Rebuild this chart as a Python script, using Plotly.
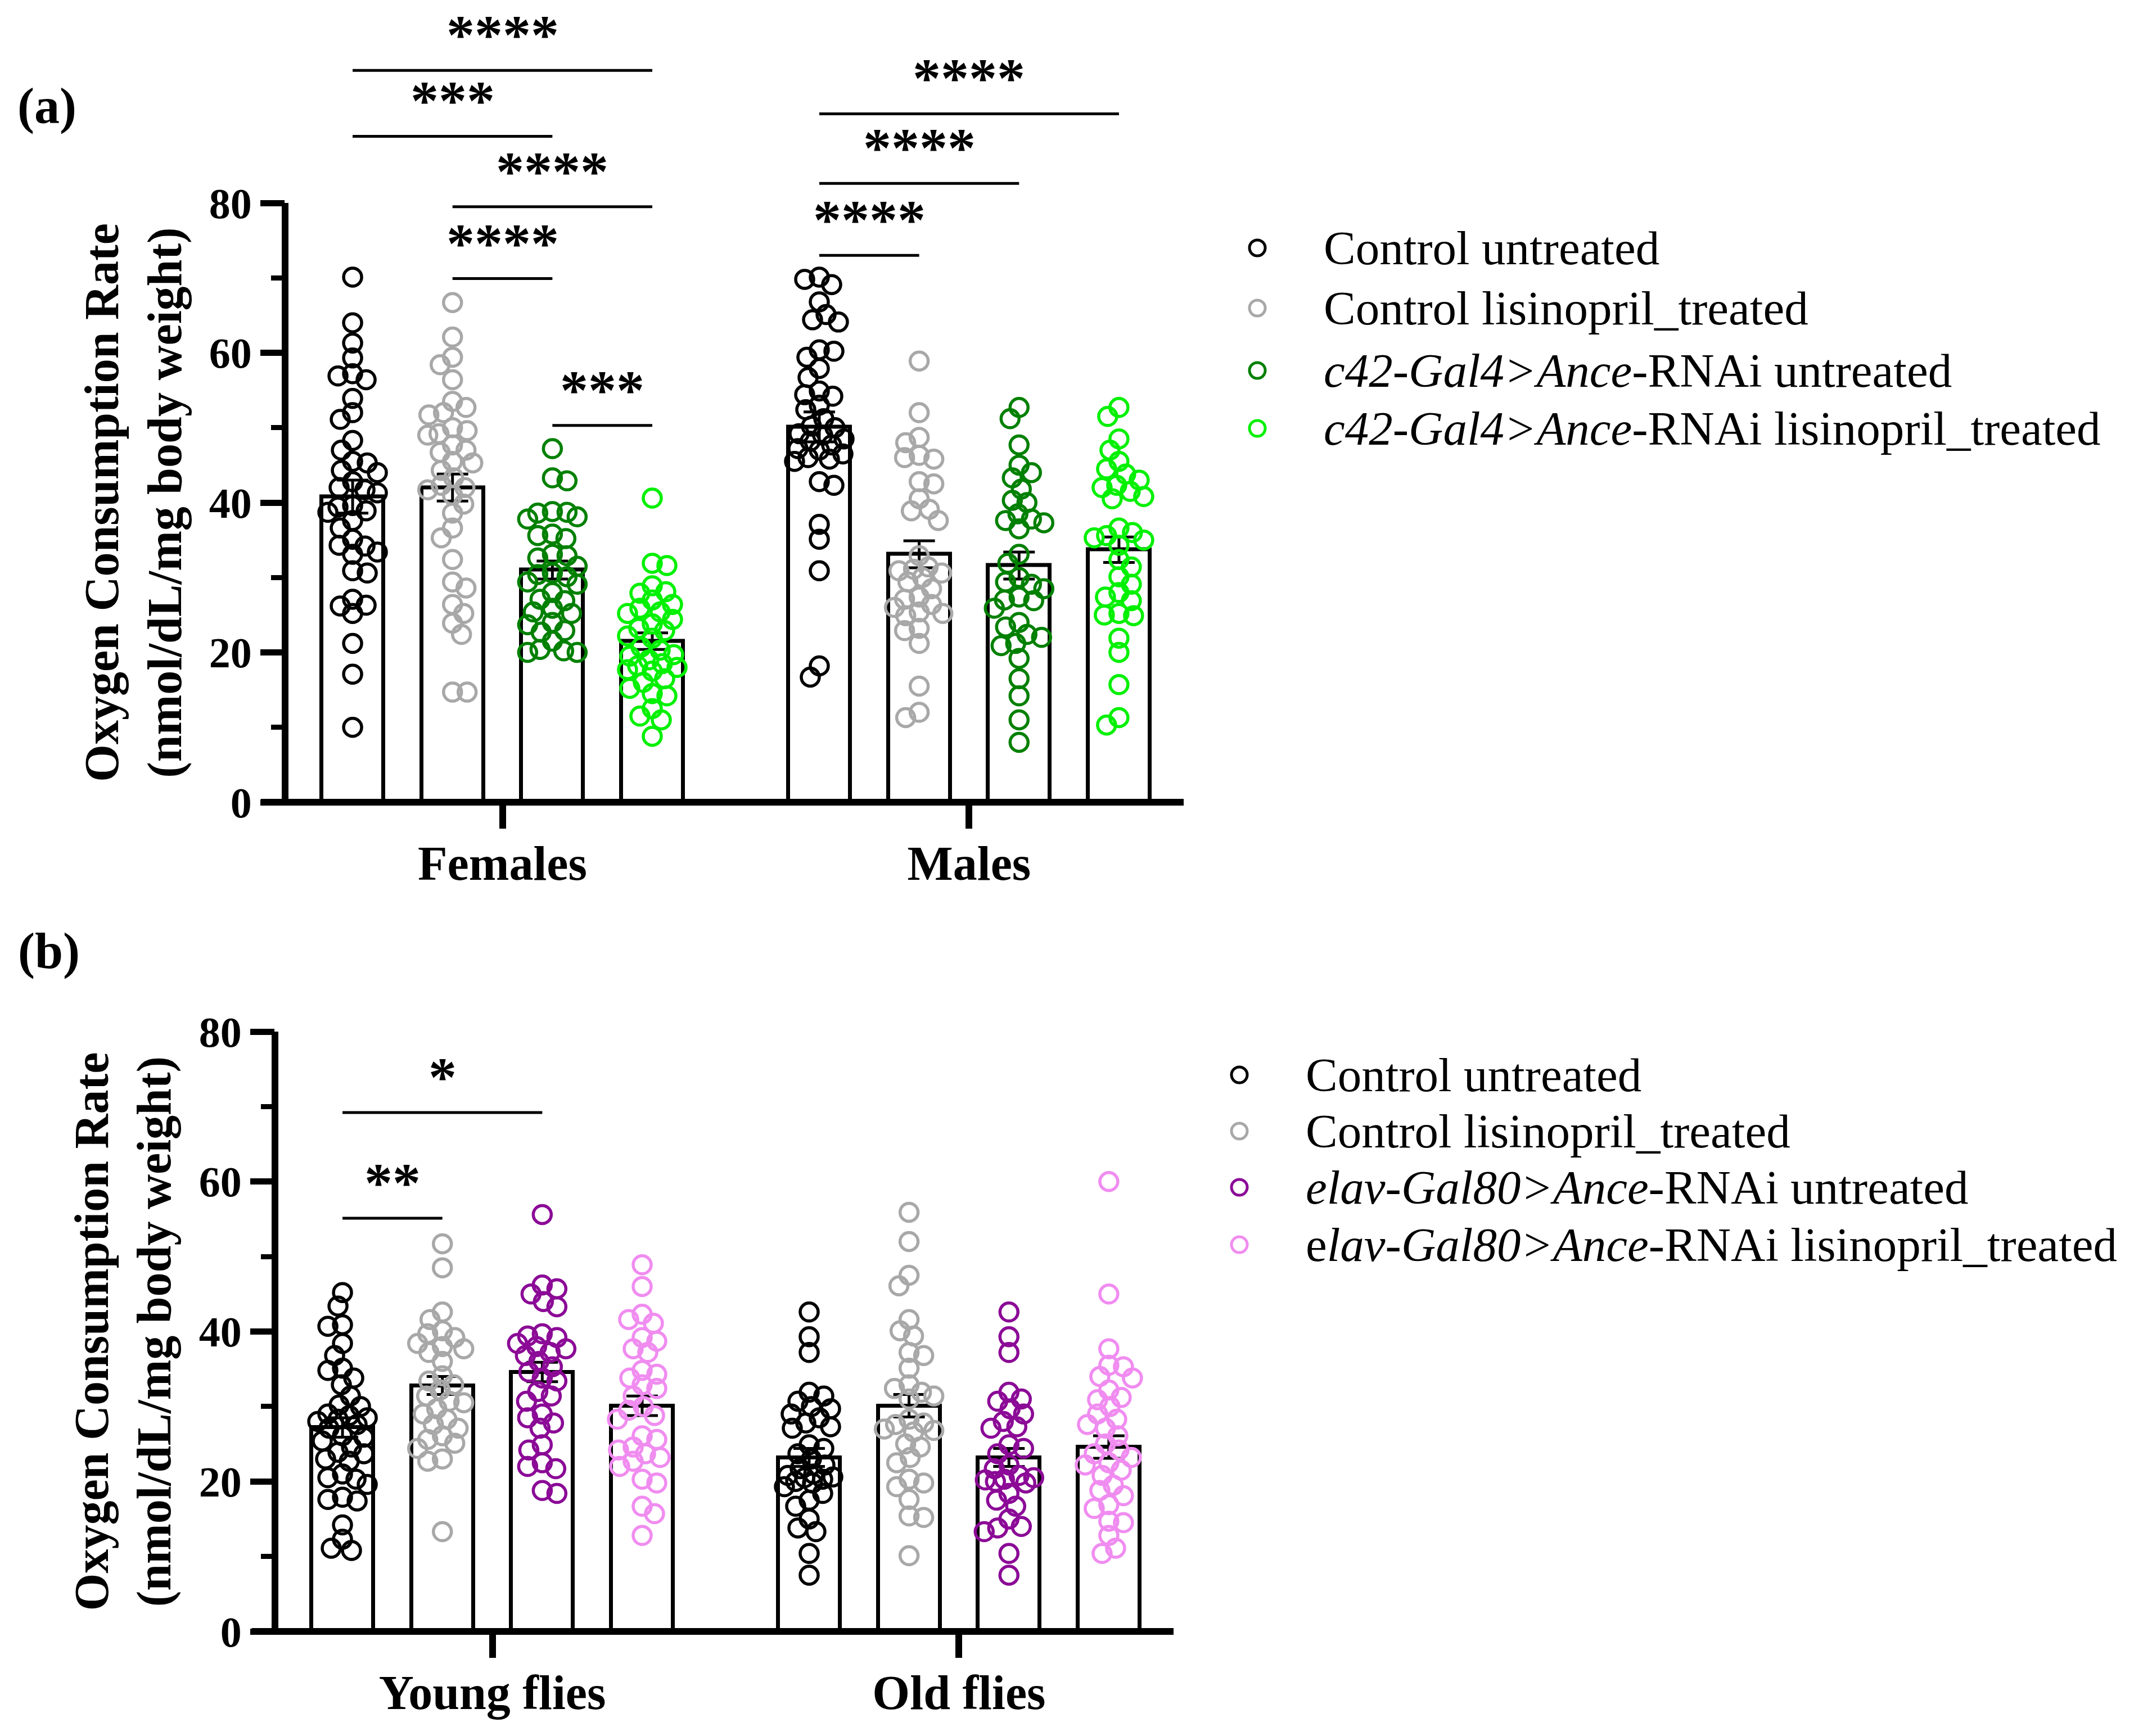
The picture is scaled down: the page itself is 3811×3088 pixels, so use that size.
import numpy as np
import plotly.graph_objects as go

W, H = 3811, 3088

# ---- panel (a): sexes ----
groups_a = ["Females", "Males"]
labels_a = ["Control untreated", "Control lisinopril_treated",
            "<i>c42-Gal4&gt;Ance</i>-RNAi untreated",
            "<i>c42-Gal4&gt;Ance</i>-RNAi lisinopril_treated"]
colors_a = ["#000000", "#A8A8A8", "#008000", "#00F000"]

fem_ctrl = [70.1, 64.0, 61.3, 59.3, 57.2, 56.9, 56.4, 53.9, 52.0, 51.1, 48.3, 47.0, 45.5, 45.3,
            44.3, 44.0, 42.8, 42.0, 41.7, 41.3, 39.6, 39.4, 38.9, 38.7, 37.6, 36.6, 35.1, 34.3,
            34.2, 33.4, 33.1, 30.9, 30.6, 27.1, 26.3, 26.2, 25.2, 21.2, 17.1, 10.0]
fem_lis = [66.7, 62.1, 59.4, 58.4, 56.4, 53.5, 52.7, 52.0, 51.7, 50.0, 49.6, 49.2, 49.0, 47.7,
           47.0, 46.7, 45.5, 45.3, 44.3, 43.3, 42.3, 42.0, 41.7, 41.0, 39.8, 38.6, 36.6, 35.3,
           32.4, 29.4, 28.6, 26.4, 25.2, 23.9, 22.4, 14.7, 14.7]
fem_rnai = [47.2, 43.3, 42.9, 38.8, 38.7, 38.6, 38.1, 37.8, 35.8, 35.6, 35.2, 33.1, 32.9, 32.6,
            31.5, 30.6, 30.4, 30.1, 29.4, 29.1, 28.0, 27.1, 26.9, 25.9, 25.4, 25.2, 24.0, 23.7,
            22.9, 22.7, 21.5, 20.4, 20.2, 20.0, 20.0]
fem_rnai_lis = [40.6, 31.9, 31.6, 28.9, 28.1, 27.9, 27.0, 26.4, 25.9, 25.4, 25.2, 24.4, 23.8,
                23.2, 22.9, 22.2, 21.9, 20.7, 20.3, 19.7, 19.5, 19.0, 18.5, 18.2, 18.0, 17.7,
                17.5, 16.5, 16.0, 15.2, 14.5, 14.2, 12.5, 11.5, 11.0, 8.8]
male_ctrl = [70.1, 69.8, 69.1, 66.8, 65.1, 64.4, 64.1, 60.4, 60.2, 59.4, 57.9, 56.7, 54.9, 54.4,
             54.2, 53.0, 52.4, 51.2, 50.2, 50.0, 49.2, 49.0, 48.5, 48.2, 47.7, 47.2, 47.0, 46.5,
             46.0, 45.8, 45.5, 42.8, 42.3, 37.1, 35.1, 30.9, 18.2, 16.7]
male_lis = [58.9, 52.0, 48.7, 48.0, 46.3, 46.0, 45.8, 42.8, 42.5, 40.5, 39.1, 38.9, 37.6, 32.9,
            31.4, 31.1, 30.9, 30.6, 30.0, 29.4, 28.5, 27.4, 27.1, 26.4, 26.0, 25.4, 25.2, 24.9,
            23.2, 22.9, 21.2, 15.5, 12.0, 11.3]
male_rnai = [52.7, 51.2, 47.7, 45.0, 44.0, 43.3, 41.8, 40.3, 40.0, 38.5, 37.8, 37.6, 37.3, 36.5,
             33.1, 31.9, 30.0, 29.4, 29.1, 28.5, 27.4, 27.0, 26.9, 25.9, 24.0, 23.4, 22.4, 22.0,
             21.2, 20.9, 19.2, 16.5, 14.2, 11.0, 8.0]
male_rnai_lis = [52.7, 51.5, 48.5, 47.0, 45.5, 44.5, 43.8, 43.0, 42.3, 42.0, 41.5, 40.8, 40.5,
                 36.6, 36.0, 35.6, 35.3, 35.0, 34.3, 32.4, 31.4, 30.1, 29.1, 28.0, 27.4, 26.9,
                 25.2, 25.0, 24.9, 21.9, 20.0, 15.7, 11.3, 10.3]

points_a = [[fem_ctrl, male_ctrl], [fem_lis, male_lis],
            [fem_rnai, male_rnai], [fem_rnai_lis, male_rnai_lis]]
means_a = [[40.8, 50.1], [42.0, 33.1], [31.0, 31.6], [21.5, 33.7]]
sem_a = [[2.2, 2.0], [1.8, 1.8], [1.2, 1.8], [1.1, 1.7]]

# ---- panel (b): ages ----
groups_b = ["Young flies", "Old flies"]
labels_b = ["Control untreated", "Control lisinopril_treated",
            "<i>elav-Gal80&gt;Ance</i>-RNAi untreated",
            "e<i>lav-Gal80&gt;Ance</i>-RNAi lisinopril_treated"]
colors_b = ["#000000", "#A8A8A8", "#8B0A96", "#F08CF0"]

young_ctrl = [45.2, 43.4, 40.9, 40.7, 38.4, 36.8, 35.1, 34.8, 33.8, 32.9, 31.4, 30.2, 30.0, 29.0,
              28.8, 28.5, 28.3, 28.0, 27.6, 27.1, 26.1, 25.9, 25.4, 24.6, 23.9, 23.7, 23.0, 22.7,
              21.0, 20.5, 20.3, 19.6, 17.9, 17.6, 17.4, 14.2, 12.3, 11.1, 10.8]
young_lis = [51.7, 48.5, 42.6, 41.6, 40.1, 39.7, 39.2, 38.4, 38.0, 37.7, 37.2, 36.0, 34.1, 33.4,
             32.9, 32.2, 31.4, 30.7, 30.5, 29.7, 29.0, 28.3, 27.6, 27.1, 26.1, 25.6, 25.1, 24.4,
             23.0, 22.7, 13.3]
young_rnai = [55.6, 46.2, 45.7, 45.0, 44.0, 43.3, 39.7, 39.4, 39.2, 38.4, 38.0, 37.7, 37.2, 36.8,
              36.0, 35.3, 34.6, 33.8, 33.4, 32.0, 31.4, 30.7, 29.0, 28.5, 27.8, 27.1, 24.9, 24.2,
              22.5, 22.0, 21.7, 18.8, 18.4]
young_rnai_lis = [48.9, 46.0, 42.3, 41.6, 41.1, 39.2, 38.7, 37.7, 37.2, 34.8, 34.3, 33.8, 32.9,
                  32.4, 31.4, 30.0, 29.5, 28.8, 28.3, 26.1, 25.6, 24.6, 24.2, 23.7, 23.2, 22.7,
                  22.0, 20.3, 19.8, 16.7, 15.7, 12.8]
old_ctrl = [42.6, 39.3, 37.2, 31.9, 31.4, 30.7, 30.0, 29.7, 29.0, 28.5, 27.8, 27.3, 27.1, 24.9,
            24.4, 23.7, 23.0, 22.2, 21.7, 21.0, 20.8, 20.6, 20.5, 20.3, 20.0, 19.8, 19.3, 18.4,
            17.5, 16.7, 15.0, 13.8, 13.3, 10.4, 7.5]
old_lis = [55.9, 52.0, 47.5, 46.1, 41.6, 40.1, 39.4, 37.2, 36.8, 35.1, 32.9, 32.4, 31.9, 31.4,
           31.0, 28.3, 27.8, 27.6, 27.0, 26.8, 26.6, 25.0, 24.6, 23.2, 22.5, 20.3, 19.8, 19.3,
           17.6, 15.4, 15.2, 10.1]
old_rnai = [42.6, 39.3, 37.2, 31.9, 31.0, 30.7, 29.7, 29.0, 28.0, 27.3, 27.1, 24.9, 24.4, 23.7,
            22.2, 21.7, 20.8, 20.5, 20.3, 20.2, 20.0, 19.8, 18.4, 17.5, 16.7, 15.0, 14.0, 13.8,
            13.3, 10.4, 7.5]
old_rnai_lis = [60.0, 45.0, 37.7, 35.5, 35.3, 34.0, 33.8, 32.2, 31.2, 30.9, 30.0, 29.0, 28.3,
                27.6, 27.1, 26.1, 25.0, 24.2, 23.7, 23.2, 22.5, 22.2, 21.5, 20.8, 19.5, 18.8,
                18.1, 16.9, 16.4, 14.7, 14.5, 12.8, 11.1, 10.4]

points_b = [[young_ctrl, old_ctrl], [young_lis, old_lis],
            [young_rnai, old_rnai], [young_rnai_lis, old_rnai_lis]]
means_b = [[27.2, 23.2], [32.8, 30.1], [34.6, 23.2], [30.1, 24.6]]
sem_b = [[1.3, 1.2], [1.2, 1.5], [1.3, 1.2], [1.3, 1.5]]

# significance brackets: (bar index from, bar index to, height, stars)
brackets_a = [(0, 3, 97.7, "****"), (0, 2, 88.9, "***"), (1, 3, 79.5, "****"),
              (1, 2, 69.9, "****"), (2, 3, 50.3, "***"),
              (4, 7, 91.9, "****"), (4, 6, 82.6, "****"), (4, 5, 73.0, "****")]
brackets_b = [(0, 2, 69.2, "*"), (0, 1, 55.1, "**")]

# ---- layout constants (pixels of the 3811x3088 page) ----
GAP = 1.672                # distance between last bar of group 1 and first of group 2
XR = [-0.676, 8.32]
PX_PER_X = 177.6
BAR_W = 0.62
FONT = "Liberation Serif"


def bar_pos(g, s):
    return s + g * (3 + GAP)


def swarm(values, px_per_y, sep=25.0, step=2.0, max_off=44.0):
    """simple beeswarm: offsets in px so circles do not sit on top of each other"""
    placed = []
    offs = []
    for i, v in enumerate(values):
        y = v * px_per_y
        sign = 1 if i % 2 == 0 else -1
        cand = [0.0]
        k = 1
        while k * step <= max_off:
            cand += [sign * k * step, -sign * k * step]
            k += 1
        chosen, best, best_d = None, 0.0, -1.0
        for c in cand:
            dmin = min((np.hypot(c - px, y - py) for px, py in placed), default=1e9)
            if dmin >= sep:
                chosen = c
                break
            if dmin > best_d:
                best_d, best = dmin, c
        if chosen is None:
            chosen = best
        placed.append((chosen, y))
        offs.append(chosen)
    return offs


fig = go.Figure()

panels = [
    dict(xa="x", ya="y", groups=groups_a, labels=labels_a, colors=colors_a, pts=points_a,
         means=means_a, sem=sem_a, brackets=brackets_a, ytop=100,
         xdom=[507 / W, 2105 / W], ydom=[1 - 1427 / H, 1 - 94.5 / H], pxy=13.325,
         title_x=237 / W, tag="(a)", tag_xy=(83 / W, 1 - 189 / H),
         leg_x=2236, leg_tx=2352, leg_rows=[441, 548, 659, 762], ext=43),
    dict(xa="x2", ya="y2", groups=groups_b, labels=labels_b, colors=colors_b, pts=points_b,
         means=means_b, sem=sem_b, brackets=brackets_b, ytop=80,
         xdom=[489 / W, 2087 / W], ydom=[1 - 2902 / H, 1 - 1835 / H], pxy=13.3375,
         title_x=218 / W, tag="(b)", tag_xy=(87 / W, 1 - 1692 / H),
         leg_x=2204, leg_tx=2320, leg_rows=[1912, 2012, 2112, 2214], ext=41),
]

shapes = []
annotations = []

for k, p in enumerate(panels):
    xa, ya = p["xa"], p["ya"]
    # bars with SEM
    for s in range(4):
        fig.add_trace(go.Bar(
            x=[bar_pos(g, s) for g in range(2)], y=p["means"][s], width=BAR_W,
            xaxis=xa, yaxis=ya, showlegend=False,
            marker=dict(color="white", line=dict(color="black", width=7)),
            error_y=dict(type="data", array=p["sem"][s], color="black", thickness=5, width=28),
        ))
    # individual flies
    for s in range(4):
        xs, ys = [], []
        for g in range(2):
            vals = p["pts"][s][g]
            offs = swarm(vals, p["pxy"])
            xs += [bar_pos(g, s) + o / PX_PER_X for o in offs]
            ys += vals
        fig.add_trace(go.Scatter(
            x=xs, y=ys, mode="markers", xaxis=xa, yaxis=ya, showlegend=False,
            name=p["labels"][s],
            marker=dict(symbol="circle-open", size=32, color=p["colors"][s],
                        line=dict(width=5.5, color=p["colors"][s])),
        ))

    # axis lines (GraphPad style: y line stops at 80, x line runs past the y axis)
    yd = ya + " domain"
    ext = p["ext"] / (p["xdom"][1] - p["xdom"][0]) / W
    shapes.append(dict(type="line", xref=xa + " domain", yref=yd, x0=-ext, x1=1, y0=0, y1=0,
                       line=dict(color="black", width=12)))
    shapes.append(dict(type="line", xref=xa + " domain", yref=yd, x0=0, x1=0, y0=0,
                       y1=80 / p["ytop"], line=dict(color="black", width=12)))

    # significance brackets
    for a, b, h, stars in p["brackets"]:
        xa0 = bar_pos(a // 4, a % 4)
        xa1 = bar_pos(b // 4, b % 4)
        shapes.append(dict(type="line", xref=xa, yref=ya, x0=xa0, x1=xa1, y0=h, y1=h,
                           line=dict(color="black", width=5)))
        annotations.append(dict(xref=xa, yref=ya, x=(xa0 + xa1) / 2, y=h, text="<b>%s</b>" % stars,
                                showarrow=False, yanchor="bottom", xanchor="center", yshift=6,
                                font=dict(family=FONT, size=100, color="black")))

    # y title
    annotations.append(dict(xref="paper", yref=ya, x=p["title_x"], y=40,
                            text="<b>Oxygen Consumption Rate</b><br><b>(nmol/dL/mg body weight)</b>",
                            textangle=-90, showarrow=False, xanchor="center", yanchor="middle",
                            font=dict(family=FONT, size=86, color="black")))
    # panel tag
    annotations.append(dict(xref="paper", yref="paper", x=p["tag_xy"][0], y=p["tag_xy"][1],
                            text="<b>%s</b>" % p["tag"], showarrow=False,
                            xanchor="center", yanchor="middle",
                            font=dict(family=FONT, size=90, color="black")))
    # legend (drawn by hand so the circles keep their size)
    for s in range(4):
        yr = 1 - p["leg_rows"][s] / H
        shapes.append(dict(type="circle", xref="paper", yref="paper",
                           xsizemode="pixel", ysizemode="pixel",
                           xanchor=p["leg_x"] / W, yanchor=yr, x0=-14, x1=14, y0=-14, y1=14,
                           line=dict(color=p["colors"][s], width=5)))
        annotations.append(dict(xref="paper", yref="paper", x=p["leg_tx"] / W, y=yr,
                                text=p["labels"][s], showarrow=False,
                                xanchor="left", yanchor="middle",
                                font=dict(family=FONT, size=85, color="black")))

    xkey = "xaxis" if xa == "x" else "xaxis2"
    ykey = "yaxis" if ya == "y" else "yaxis2"
    fig.update_layout(**{
        xkey: dict(domain=p["xdom"], anchor=ya, range=XR, showline=False, showgrid=False,
                   zeroline=False, automargin=False, tickmode="array",
                   tickvals=[1.5, 1.5 + 3 + GAP], ticktext=p["groups"],
                   ticks="outside", ticklen=46, tickwidth=12, tickcolor="black",
                   ticklabelstandoff=-12,
                   tickfont=dict(family=FONT, size=86, color="black", weight="bold")),
        ykey: dict(domain=p["ydom"], anchor=xa, range=[0, p["ytop"]], showline=False,
                   showgrid=False, zeroline=False, automargin=False, tickmode="array",
                   tickvals=[0, 20, 40, 60, 80], ticktext=["0", "20", "40", "60", "80"],
                   ticks="outside", ticklen=43, tickwidth=11, tickcolor="black",
                   tickfont=dict(family=FONT, size=76, color="black", weight="bold"),
                   minor=dict(tickvals=[10, 30, 50, 70], ticks="outside", ticklen=24,
                              tickwidth=9, tickcolor="black")),
    })

fig.update_layout(width=W, height=H, margin=dict(l=0, r=0, t=0, b=0, autoexpand=False),
                  plot_bgcolor="white", paper_bgcolor="white", bargap=0,
                  font=dict(family=FONT, color="black"),
                  shapes=shapes, annotations=annotations, showlegend=False)

# page margin off so the figure sits at the top-left corner of the window, no modebar
fig.write_html("out.html", config={"displayModeBar": False},
               post_script="document.body.style.margin='0px';")
